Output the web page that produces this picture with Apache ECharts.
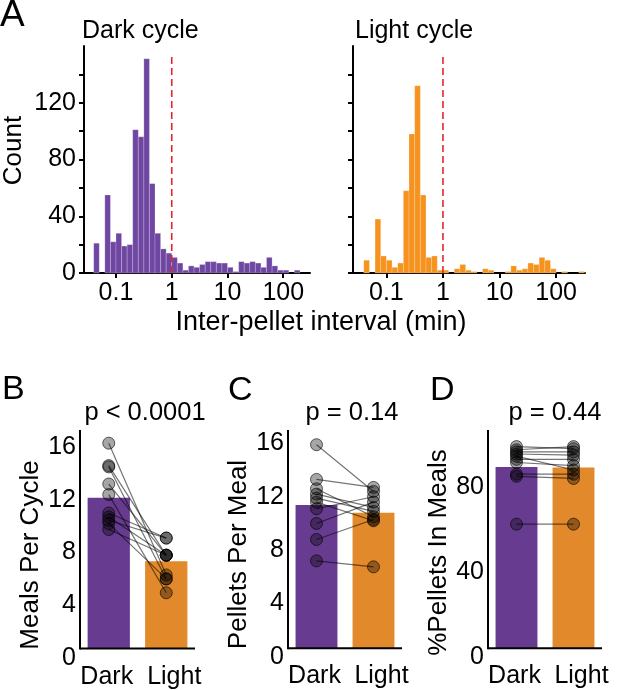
<!DOCTYPE html>
<html><head><meta charset="utf-8">
<script src="https://cdn.jsdelivr.net/npm/echarts@6/dist/echarts.min.js"></script>
<style>html,body{margin:0;padding:0;background:#fff}#c{width:617px;height:690px}</style>
</head><body><div id="c"></div>
<script>
// ---------------- data ----------------
// histogram bins: lower edges in log10(minutes), width 0.1 decade
const binLowerEdgesLog10 = [-1.4,-1.3,-1.2,-1.1,-1.0,-0.9,-0.8,-0.7,-0.6,-0.5,-0.4,-0.3,-0.2,-0.1,0.0,0.1,0.2,0.3,0.4,0.5,0.6,0.7,0.8,0.9,1.0,1.1,1.2,1.3,1.4,1.5,1.6,1.7,1.8,1.9,2.0,2.1,2.2,2.3,2.4];
const binWidthLog10 = 0.1;
const darkCounts  = [21,0,55,22,28,19,20,101,96,151,63,28,17,14,11,7,2,5,4,6,8,8,7,7,4,1,8,7,8,7,4,11,5,2,2,0,2,0,0];
const lightCounts = [9,0,38,12,9,4,7,58,98,132,55,11,12,2,2,0,3,6,2,1,0,3,2,0,0,1,5,2,3,7,6,11,9,3,0,1,0,0,1];
const xTickMinutes = [0.1, 1, 10, 100];
const histYTicks = [0,20,40,60,80,100,120,140];
const histYLabels = [0,40,80,120];
const mealThresholdMin = 1;
const thresholdLineTop = 155;

const groups = ['Dark', 'Light'];
const mealsMean = [12.15, 7.35];
const mealsDark  = [16.3, 14.6, 14.5, 13.2, 12.4, 11.0, 10.7, 10.45, 10.2, 9.75];
const mealsLight = [6.3, 7.8, 6.0, 7.8, 4.95, 9.1, 7.8, 9.1, 6.0, 7.8];
const pelletsMean = [11.38, 10.8];
const pelletsDark  = [15.9, 13.3, 12.6, 12.2, 11.9, 11.6, 11.1, 10.0, 8.8, 7.2];
const pelletsLight = [12.4, 12.7, 10.5, 11.2, 10.9, 10.2, 12.0, 11.6, 10.3, 6.75];
const pctMean = [89.4, 89.1];
const pctDark  = [99, 97.5, 96.5, 95.5, 94.5, 93, 91.5, 86, 85, 62.5];
const pctLight = [98, 99, 96.5, 95, 88, 93, 90, 86, 84, 62.5];
const bcdTicks = [[0,4,8,12,16],[0,4,8,12,16],[0,40,80]];
const pValues = ['p < 0.0001', 'p = 0.14', 'p = 0.44'];

// ---------------- styles ----------------
const FONT = '"Liberation Sans", Arial, Helvetica, sans-serif';
const PURPLE_H = '#6f47a3', ORANGE_H = '#f6931f';
const PURPLE_B = '#673c90', ORANGE_B = '#e2892b';
const TICK_FS = 25, NAME_FS = 26;

const histData = counts => binLowerEdgesLog10.map((e, i) => [e, e + binWidthLog10, counts[i]]);
function histItem(color) {
  return function (params, api) {
    const c = api.value(2);
    if (!c) return null;
    const p0 = api.coord([api.value(0), c]);
    const p1 = api.coord([api.value(1), 0]);
    return { type: 'rect', shape: { x: p0[0], y: p0[1], width: p1[0] - p0[0], height: p1[1] - p0[1] },
      style: { fill: color, stroke: 'rgba(255,255,255,0.35)', lineWidth: 0.6 } };
  };
}
const tickLog = xTickMinutes.map(v => Math.log10(v));
function histX(idx, min, max) {
  return { type: 'value', gridIndex: idx, min: min, max: max,
    axisLine: { show: true, onZero: false, lineStyle: { color: '#000', width: 2 } },
    axisTick: { show: true, length: 5, lineStyle: { color: '#000', width: 2 }, customValues: tickLog },
    axisLabel: { customValues: tickLog, margin: 8, fontSize: TICK_FS, fontFamily: FONT, color: '#000',
      formatter: v => String(+Math.pow(10, v).toPrecision(2)) },
    splitLine: { show: false } };
}
function histY(idx, labels) {
  return { type: 'value', gridIndex: idx, min: 0, max: 160,
    axisLine: { show: true, onZero: false, lineStyle: { color: '#000', width: 2 } },
    axisTick: { show: true, length: 5, lineStyle: { color: '#000', width: 2 }, customValues: histYTicks },
    axisLabel: labels ? { customValues: histYLabels, margin: 8, fontSize: TICK_FS, fontFamily: FONT, color: '#000' } : { show: false },
    splitLine: { show: false },
    name: labels ? 'Count' : '', nameLocation: 'middle', nameRotate: 90, nameGap: 57,
    nameTextStyle: { fontSize: NAME_FS, fontFamily: FONT, color: '#000', padding: [0, 0, 0, 18] } };
}
function thresholdLine(idx) {
  const x = Math.log10(mealThresholdMin);
  return { type: 'line', xAxisIndex: idx, yAxisIndex: idx, data: [[x, 0], [x, thresholdLineTop]],
    symbol: 'none', z: 4, lineStyle: { color: '#e3262e', width: 1.6, type: [7, 4] } };
}

// bottom panels
function axesItem(params, api) {
  const cs = params.coordSys;
  const y = api.coord([0, api.value(1)])[1];
  return { type: 'group', children: [
    { type: 'line', shape: { x1: cs.x, y1: cs.y, x2: cs.x, y2: y + 1 }, style: { stroke: '#000', lineWidth: 2 } },
    { type: 'line', shape: { x1: cs.x, y1: y, x2: cs.x + cs.width, y2: y }, style: { stroke: '#000', lineWidth: 2 } }
  ] };
}
function barItem(params, api) {
  const colors = [PURPLE_B, ORANGE_B];
  const i = api.value(0);
  const top = api.coord([i, api.value(1)]);
  const bot = api.coord([i, api.value(2)]);
  const w = api.size([1, 0])[0] * 0.735;
  return { type: 'rect', shape: { x: top[0] - w / 2, y: top[1], width: w, height: bot[1] - top[1] },
    style: { fill: colors[i] } };
}
const panels = [
  { mean: mealsMean, dark: mealsDark, light: mealsLight, max: 17.3, cross: 0.73, name: 'Meals Per Cycle', gap: 33, pad: [0, 22, 0, 0] },
  { mean: pelletsMean, dark: pelletsDark, light: pelletsLight, max: 17.0, cross: 0.65, name: 'Pellets Per Meal', gap: 33, pad: [0, 22, 0, 0] },
  { mean: pctMean, dark: pctDark, light: pctLight, max: 106.8, cross: 4.1, name: '%Pellets In Meals', gap: 36, pad: [0, 18, 0, 0] }
];
const grids = [
  { left: 79, right: 307, top: 46, bottom: 417 },
  { left: 353, right: 32, top: 46, bottom: 417 },
  { left: 80, right: 422, top: 430, bottom: 32 },
  { left: 288, right: 215, top: 430, bottom: 33 },
  { left: 488, right: 15, top: 430, bottom: 33 }
];
const xAxes = [histX(0, -1.574, 2.48), histX(1, -1.59, 2.51)];
const yAxes = [histY(0, true), histY(1, false)];
const series = [
  { type: 'custom', xAxisIndex: 0, yAxisIndex: 0, data: histData(darkCounts), encode: { x: [0, 1], y: 2 }, renderItem: histItem(PURPLE_H), z: 2 },
  { type: 'custom', xAxisIndex: 1, yAxisIndex: 1, data: histData(lightCounts), encode: { x: [0, 1], y: 2 }, renderItem: histItem(ORANGE_H), z: 2 },
  thresholdLine(0), thresholdLine(1)
];
panels.forEach((p, k) => {
  const gi = k + 2;
  xAxes.push({ type: 'category', gridIndex: gi, data: groups,
    axisLine: { show: false }, axisTick: { show: false },
    axisLabel: { interval: 0, margin: 7, fontSize: TICK_FS, fontFamily: FONT, color: '#000',
      formatter: (v, i) => i === 0 ? '{d|' + v + '}' : '{l|' + v + '}',
      rich: { d: { fontSize: TICK_FS, fontFamily: FONT, color: '#000', padding: [0, 4, 0, 0] },
              l: { fontSize: TICK_FS, fontFamily: FONT, color: '#000', padding: [0, 0, 0, 16] } } } });
  yAxes.push({ type: 'value', gridIndex: gi, min: 0, max: p.max,
    axisLine: { show: false, onZero: false }, axisTick: { show: false }, splitLine: { show: false },
    axisLabel: { customValues: bcdTicks[k], margin: 4, fontSize: TICK_FS, fontFamily: FONT, color: '#000' },
    name: p.name, nameLocation: 'middle', nameRotate: 90, nameGap: p.gap,
    nameTextStyle: { fontSize: NAME_FS, fontFamily: FONT, color: '#000', padding: p.pad } });
  series.push({ type: 'custom', xAxisIndex: gi, yAxisIndex: gi, data: p.mean.map((m, i) => [i, m, p.cross]),
    encode: { x: 0, y: 1 }, renderItem: barItem, z: 1 });
  series.push({ type: 'custom', xAxisIndex: gi, yAxisIndex: gi, data: [[0, p.cross]],
    encode: { x: 0, y: 1 }, renderItem: axesItem, z: 10 });
  p.dark.forEach((d, i) => {
    series.push({ type: 'line', xAxisIndex: gi, yAxisIndex: gi, data: [d, p.light[i]], z: 5,
      symbol: 'circle', symbolSize: 12,
      itemStyle: { color: 'rgba(0,0,0,0.35)', borderColor: 'rgba(0,0,0,0.6)', borderWidth: 1 },
      lineStyle: { color: 'rgba(0,0,0,0.55)', width: 1.2 } });
  });
});

const txt = (t, x, y, size, align) => ({ type: 'text', x: x, y: y,
  style: { text: t, font: size + 'px ' + FONT, fill: '#000', align: align || 'left', verticalAlign: 'middle' } });
const graphic = [
  txt('A', 0, 16, 37), txt('Dark cycle', 82, 31, 25), txt('Light cycle', 355, 31, 25),
  txt('Inter-pellet interval (min)', 321, 323, 27, 'center'),
  txt('B', 2, 390, 34), txt('C', 228, 391, 34), txt('D', 430, 391, 34),
  txt(pValues[0], 145, 413, 25.5, 'center'), txt(pValues[1], 352, 413, 25.5, 'center'), txt(pValues[2], 555, 413, 25.5, 'center')
];

const chart = echarts.init(document.getElementById('c'), null, { renderer: 'canvas' });
chart.setOption({
  animation: false, backgroundColor: '#fff',
  grid: grids, xAxis: xAxes, yAxis: yAxes, series: series, graphic: graphic
});
</script></body></html>
